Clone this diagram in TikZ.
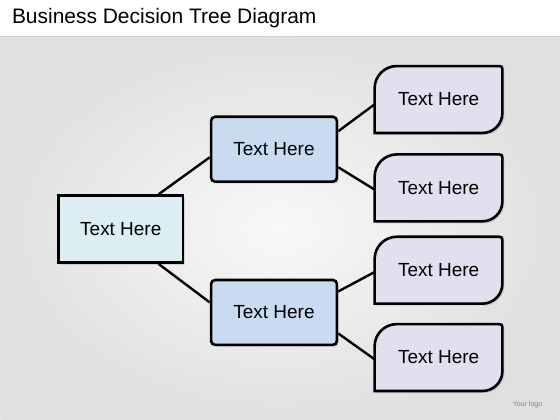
\documentclass[tikz,border=0pt]{standalone}
\usepackage{fontspec}
\setmainfont{Liberation Sans}
\usetikzlibrary{shadows}

\definecolor{rootfill}{HTML}{DCEDF4}
\definecolor{midfill}{HTML}{C8DBF0}
\definecolor{leaffill}{HTML}{E2DFEE}

\pgfdeclarelayer{back}
\pgfdeclarelayer{shapes}
\pgfsetlayers{back,shapes,main}

\tikzset{
  rootbox/.style={draw=black, line width=2.6pt, fill=rootfill, minimum width=125pt, minimum height=67pt, inner sep=0pt,
    drop shadow={opacity=0.25, shadow xshift=2pt, shadow yshift=-2pt}, font=\fontsize{19}{22}\selectfont},
  midbox/.style={rootbox, fill=midfill, rounded corners=4pt, minimum width=126pt, minimum height=65pt},
  leafbox/.style={minimum width=128pt, minimum height=67pt, inner sep=0pt, font=\fontsize{19}{22}\selectfont},
  leafline/.style={draw=black, line width=2.6pt, fill=leaffill, drop shadow={opacity=0.25, shadow xshift=2pt, shadow yshift=-2pt}},
  branch/.style={line width=2.4pt, black}
}

\begin{document}
\begin{tikzpicture}[x=1pt, y=-1pt]
        % Page and backdrop
        \begin{pgfonlayer}{back}
        \fill[white] (0,0) rectangle (560,420);
        \fill[inner color=gray!5, outer color=gray!24] (0,37) rectangle (560,420);
        \draw[gray!35, line width=1pt] (0,37) -- (560,37);
        \end{pgfonlayer}
        \useasboundingbox (0,0) rectangle (560,420);

        % Title
        \node[anchor=west, font=\fontsize{21}{25}\selectfont] (title) at (8,18) {Business Decision Tree Diagram};

        % Root node
        \node[rootbox] (root) at (120.5,229.5) {Text Here};

        % Second stage nodes
        \node[midbox] (mtop) at (274,149.5) {Text Here};
        \node[midbox] (mbot) at (274,313) {Text Here};

        % Leaf nodes
        \node[leafbox] (l1) at (439,99.5) {Text Here};
        \node[leafbox] (l2) at (439,188) {Text Here};
        \node[leafbox] (l3) at (439,270.5) {Text Here};
        \node[leafbox] (l4) at (439,358) {Text Here};

        \begin{pgfonlayer}{shapes}
        \foreach \n in {l1,l2,l3,l4}
          \draw[leafline] (\n.south west) -- ++(0,-45)
            .. controls +(0,-12) and +(-12,0) .. ++(22,-22)
            -- ++(103,0) .. controls +(2,0) and +(0,-2) .. ++(3,3)
            -- ++(0,44) .. controls +(0,11) and +(11,0) .. ++(-20,20)
            -- cycle;
        \end{pgfonlayer}

        % Branches
        \draw[branch] ([xshift=-26pt]root.north east) -- ([yshift=-8pt]mtop.west);
        \draw[branch] ([xshift=-26pt]root.south east) -- ([yshift=10pt]mbot.west);
        \draw[branch] ([yshift=18pt]mtop.east) -- ([yshift=-5pt]l1.west);
        \draw[branch] ([yshift=-18pt]mtop.east) -- ([yshift=-2pt]l2.west);
        \draw[branch] ([yshift=21pt]mbot.east) -- ([yshift=-2pt]l3.west);
        \draw[branch] ([yshift=-21pt]mbot.east) -- ([yshift=-2pt]l4.west);

        % Logo
        \node[gray, font=\fontsize{7}{8}\selectfont] (logo) at (528,405) {Your logo};
    \end{tikzpicture}
\end{document}
